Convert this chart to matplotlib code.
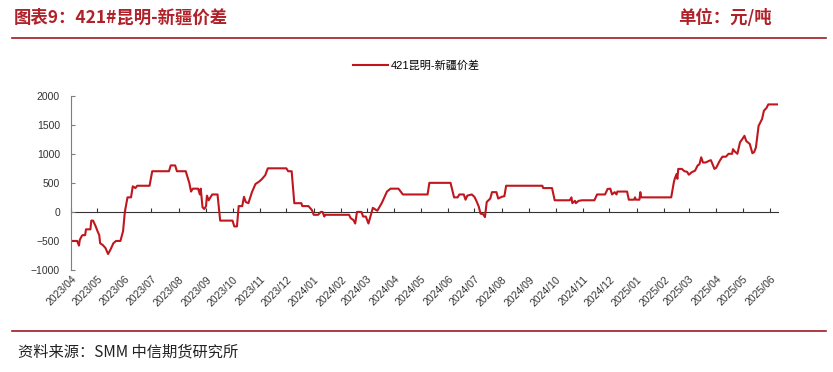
import matplotlib
matplotlib.use('Agg')
import matplotlib.pyplot as plt
import matplotlib.dates as mdates
import pandas as pd

plt.rcParams['font.family'] = ['Liberation Sans', 'Noto Sans CJK SC', 'DejaVu Sans']

# 421#昆明-新疆价差 (元/吨)
dates = [
    "2023-04-03", "2023-04-08", "2023-04-10", "2023-04-11", "2023-04-13", "2023-04-14",
    "2023-04-17", "2023-04-18", "2023-04-23", "2023-04-24", "2023-04-26", "2023-04-29",
    "2023-05-01", "2023-05-03", "2023-05-04", "2023-05-07", "2023-05-10", "2023-05-13",
    "2023-05-16", "2023-05-19", "2023-05-22", "2023-05-27", "2023-05-30", "2023-06-01",
    "2023-06-04", "2023-06-08", "2023-06-10", "2023-06-13", "2023-06-15", "2023-06-29",
    "2023-07-02", "2023-07-21", "2023-07-23", "2023-07-28", "2023-07-30", "2023-08-09",
    "2023-08-13", "2023-08-15", "2023-08-17", "2023-08-23", "2023-08-25", "2023-08-26",
    "2023-08-28", "2023-08-30", "2023-09-01", "2023-09-02", "2023-09-04", "2023-09-08",
    "2023-09-14", "2023-09-17", "2023-10-01", "2023-10-03", "2023-10-06", "2023-10-08",
    "2023-10-12", "2023-10-14", "2023-10-16", "2023-10-19", "2023-10-23", "2023-10-27",
    "2023-10-31", "2023-11-03", "2023-11-07", "2023-11-10", "2023-12-01", "2023-12-03",
    "2023-12-07", "2023-12-10", "2023-12-18", "2023-12-19", "2023-12-26", "2023-12-30",
    "2024-01-01", "2024-01-06", "2024-01-09", "2024-01-11", "2024-01-13", "2024-01-14",
    "2024-02-10", "2024-02-12", "2024-02-15", "2024-02-17", "2024-02-19", "2024-02-24",
    "2024-02-26", "2024-02-29", "2024-03-03", "2024-03-08", "2024-03-11", "2024-03-13",
    "2024-03-18", "2024-03-24", "2024-03-28", "2024-04-06", "2024-04-11", "2024-05-09",
    "2024-05-11", "2024-06-04", "2024-06-08", "2024-06-12", "2024-06-14", "2024-06-19",
    "2024-06-21", "2024-06-23", "2024-06-28", "2024-07-01", "2024-07-03", "2024-07-06",
    "2024-07-08", "2024-07-11", "2024-07-13", "2024-07-15", "2024-07-19", "2024-07-21",
    "2024-07-26", "2024-07-28", "2024-08-01", "2024-08-04", "2024-08-06", "2024-09-16",
    "2024-09-17", "2024-09-27", "2024-09-30", "2024-10-17", "2024-10-19", "2024-10-20",
    "2024-10-23", "2024-10-24", "2024-10-27", "2024-10-31", "2024-11-14", "2024-11-17",
    "2024-11-26", "2024-11-29", "2024-12-02", "2024-12-04", "2024-12-07", "2024-12-09",
    "2024-12-10", "2024-12-21", "2024-12-23", "2024-12-29", "2024-12-30", "2024-12-31",
    "2025-01-04", "2025-01-05", "2025-01-06", "2025-02-09", "2025-02-12", "2025-02-13",
    "2025-02-15", "2025-02-16", "2025-02-17", "2025-02-21", "2025-02-24", "2025-02-27",
    "2025-03-01", "2025-03-04", "2025-03-08", "2025-03-11", "2025-03-13", "2025-03-15",
    "2025-03-17", "2025-03-20", "2025-03-24", "2025-03-26", "2025-03-30", "2025-04-01",
    "2025-04-05", "2025-04-08", "2025-04-12", "2025-04-15", "2025-04-19", "2025-04-20",
    "2025-04-22", "2025-04-25", "2025-04-28", "2025-04-30", "2025-05-03", "2025-05-05",
    "2025-05-09", "2025-05-12", "2025-05-14", "2025-05-16", "2025-05-19", "2025-05-21",
    "2025-05-23", "2025-05-25", "2025-05-28", "2025-05-30", "2025-06-10",
]
spread = [
    -500, -500, -580, -480, -420, -400,
    -400, -300, -300, -150, -150, -250,
    -330, -400, -540, -570, -620, -725,
    -640, -540, -500, -500, -330, 0,
    250, 250, 440, 410, 450, 450,
    700, 700, 800, 800, 700, 700,
    500, 350, 400, 400, 300, 400,
    80, 50, 100, 280, 200, 300,
    300, -150, -150, -250, -250, 100,
    100, 260, 170, 150, 340, 480,
    520, 560, 630, 750, 750, 700,
    700, 150, 150, 100, 100, 30,
    -50, -50, 0, 0, -80, -50,
    -50, -110, -140, -200, 0, 0,
    -80, -80, -200, 70, 40, 20,
    150, 350, 400, 400, 300, 300,
    500, 500, 250, 250, 300, 300,
    210, 280, 300, 260, 200, 90,
    -30, -40, -90, 170, 230, 340,
    340, 230, 260, 270, 450, 450,
    410, 410, 200, 200, 250, 150,
    190, 150, 190, 200, 200, 300,
    300, 395, 400, 300, 340, 300,
    350, 350, 210, 210, 250, 210,
    210, 340, 250, 250, 510, 570,
    650, 570, 740, 740, 700, 690,
    640, 680, 710, 800, 820, 940,
    850, 850, 880, 890, 740, 760,
    880, 950, 950, 1000, 1000, 1080,
    1040, 1000, 1200, 1240, 1310, 1220,
    1170, 1010, 1030, 1110, 1480, 1540,
    1600, 1740, 1790, 1850, 1850,
]

x = pd.to_datetime(dates)

red = '#C0161E'
title_red = '#B0222A'
axis_grey = '#7F7F7F'

fig = plt.figure(figsize=(8.33, 3.72), dpi=100)
ax = fig.add_axes([71 / 833, 1 - 270 / 372, (778 - 71) / 833, (270 - 95.7) / 372])

ax.plot(x, spread, color=red, lw=1.5, label='421昆明-新疆价差')

ax.set_ylim(-1000, 2000)
ax.set_yticks(range(-1000, 2001, 500))
ax.set_xlim(pd.Timestamp('2023-04-01'), pd.Timestamp('2025-06-10'))

months = mdates.MonthLocator()
ax.xaxis.set_major_locator(months)
ax.xaxis.set_major_formatter(mdates.DateFormatter('%Y/%m'))
ax.tick_params(axis='x', length=0, pad=3, labelsize=7.5, colors='#333333')
for lab in ax.get_xticklabels():
    lab.set_rotation(45)
    lab.set_ha('right')
    lab.set_rotation_mode('anchor')
ax.tick_params(axis='y', direction='in', length=3, color=axis_grey, labelsize=7.5,
               labelcolor='#333333', pad=8)

for s in ['top', 'right', 'bottom']:
    ax.spines[s].set_visible(False)
ax.spines['left'].set_color(axis_grey)

# zero line with month ticks
zero_ax = ax.secondary_xaxis(1 / 3)
zero_ax.xaxis.set_major_locator(mdates.MonthLocator())
zero_ax.tick_params(direction='in', length=3, color='#333333', labelbottom=False, labeltop=False)
zero_ax.spines['bottom'].set_color('#333333')
zero_ax.spines['top'].set_color('#333333')

fig.legend(loc='center', bbox_to_anchor=(416 / 833, 1 - 66 / 372), frameon=False,
           fontsize=8, handlelength=3.2, handletextpad=0.2)

fig.text(14 / 833, 1 - 18 / 372, '图表9：421#昆明-新疆价差', fontsize=12.5, fontweight='bold',
         color=title_red, va='center', family=['Noto Sans CJK SC'])
fig.text(678 / 833, 1 - 18 / 372, '单位：元/吨', fontsize=12.5, fontweight='bold',
         color=title_red, va='center', family=['Noto Sans CJK SC'])
fig.add_artist(plt.Line2D([12 / 833, 826 / 833], [1 - 38 / 372] * 2, color='#9E1B22', lw=1.2))
fig.add_artist(plt.Line2D([12 / 833, 826 / 833], [1 - 331 / 372] * 2, color='#9E1B22', lw=1.2))
fig.text(18 / 833, 1 - 352 / 372, '资料来源：SMM 中信期货研究所', fontsize=11,
         color='#222222', va='center', family=['Noto Sans CJK SC'])

fig.savefig('out.png', dpi=100)
